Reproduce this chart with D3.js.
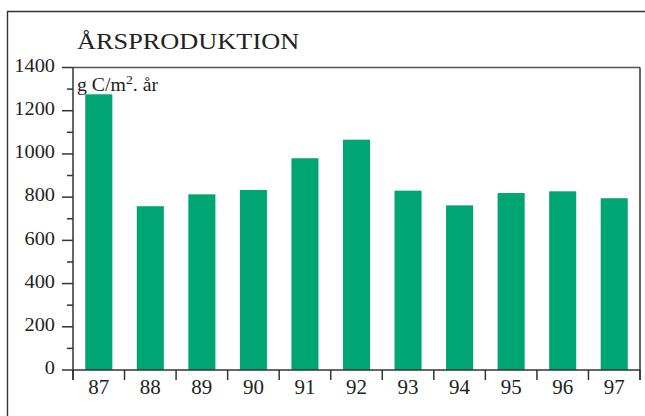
<!DOCTYPE html>
<html><head><meta charset="utf-8">
<script src="https://cdn.jsdelivr.net/npm/d3@7"></script>
<style>
html,body{margin:0;padding:0;background:#fff;}
svg{display:block;}
text{font-family:"Liberation Serif","Times New Roman",serif;fill:#222;}
</style></head>
<body>
<script>
const categories = ["87","88","89","90","91","92","93","94","95","96","97"];
const values = [1276, 758, 813, 833, 980, 1066, 830, 762, 819, 827, 795];
const yTicks = [0, 200, 400, 600, 800, 1000, 1200, 1400];
const yMinorTicks = [100, 300, 500, 700, 900, 1100, 1300];
const titleText = "ÅRSPRODUKTION";

(function(){
const W = 645, H = 416;
const mLeft = 73, mRight = 640, mTop = 67.5, mBottom = 370;

const svg = d3.select("body").append("svg").attr("width", W).attr("height", H);

svg.append("path").attr("d", `M7.5,${H} L7.5,11.5 L${W},11.5`)
  .attr("fill","none").attr("stroke","#333").attr("stroke-width",1.4);

const x = d3.scaleBand().domain(categories).range([mLeft, mRight])
  .paddingInner(0.475).paddingOuter(0.2375);
const y = d3.scaleLinear().domain([0, 1400]).range([mBottom, mTop]);

svg.append("g").selectAll("rect").data(values).join("rect")
  .attr("x", (d,i) => x(categories[i]))
  .attr("width", x.bandwidth())
  .attr("y", d => y(d))
  .attr("height", d => y(0) - y(d))
  .attr("fill", "#00a574");

const ax = svg.append("g").attr("stroke","#333").attr("stroke-width",1.5).attr("fill","none");
ax.append("line").attr("x1",mLeft).attr("x2",mRight).attr("y1",mTop).attr("y2",mTop).attr("stroke","#555");
ax.append("line").attr("x1",mRight).attr("x2",mRight).attr("y1",mTop).attr("y2",mBottom+10);
ax.append("line").attr("x1",mLeft).attr("x2",mLeft).attr("y1",mTop).attr("y2",mBottom+10);
ax.append("line").attr("x1",mLeft).attr("x2",mRight).attr("y1",mBottom).attr("y2",mBottom);

ax.selectAll("line.maj").data(yTicks).join("line").attr("class","maj")
  .attr("x1",mLeft-11).attr("x2",mLeft).attr("y1",d=>y(d)).attr("y2",d=>y(d));
ax.selectAll("line.min").data(yMinorTicks).join("line").attr("class","min")
  .attr("x1",mLeft-6).attr("x2",mLeft).attr("y1",d=>y(d)).attr("y2",d=>y(d));

const step = x.step();
const bounds = categories.map(c => x(c) - (step - x.bandwidth())/2).concat([mRight]);
ax.selectAll("line.xt").data(bounds).join("line").attr("class","xt")
  .attr("x1",d=>d).attr("x2",d=>d).attr("y1",mBottom).attr("y2",mBottom+10);

svg.append("g").selectAll("text").data(yTicks).join("text")
  .attr("transform", d => `translate(55,${y(d)+4.2}) scale(1.1,1)`)
  .attr("text-anchor","end").attr("font-size",18.5).text(d => d);

svg.append("g").selectAll("text").data(categories).join("text")
  .attr("transform", c => `translate(${x(c)+x.bandwidth()/2},393.5) scale(1.05,1)`)
  .attr("text-anchor","middle").attr("font-size",20).text(c => c);

svg.append("text").attr("transform",`translate(77,49) scale(1.12,1)`)
  .attr("font-size",23.5).text(titleText);

const u = svg.append("text").attr("transform",`translate(77,91) scale(1.1,1)`).attr("font-size",18);
u.append("tspan").text("g C/m");
u.append("tspan").attr("dy",-7).attr("font-size",12.5).text("2");
u.append("tspan").attr("dy",7).text(". år");
})();
</script>
</body></html>
